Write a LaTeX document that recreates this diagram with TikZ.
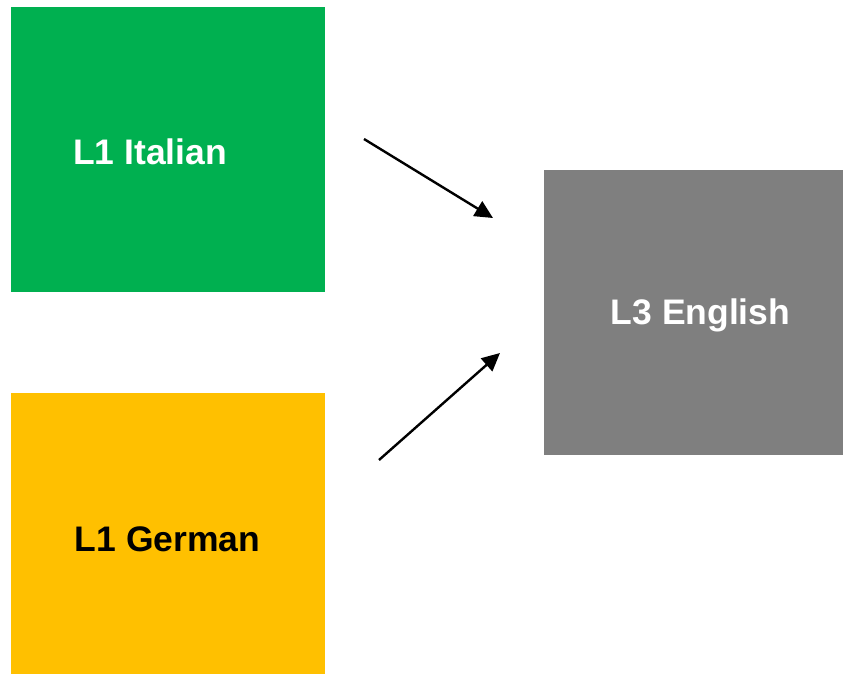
\documentclass[tikz,border=0pt]{standalone}
\usepackage{fontspec}
\setmainfont{Liberation Sans}
\usetikzlibrary{arrows.meta}
\definecolor{boxgreen}{HTML}{00B050}
\definecolor{boxyellow}{HTML}{FFC000}
\definecolor{boxgray}{HTML}{7F7F7F}
\tikzset{
  langbox/.style={draw=none, inner sep=0pt, anchor=north west},
  langtext/.style={font=\fontsize{35.5bp}{40bp}\selectfont\bfseries, inner sep=0pt},
  link/.style={line width=2.4bp, -{Triangle[length=18bp, width=17bp]}}
}
\begin{document}
\begin{tikzpicture}[x=1bp, y=-1bp]
  \useasboundingbox (0,0) rectangle (843,675);
  % language boxes
  \node[langbox, fill=boxgreen, minimum width=314bp, minimum height=285bp] (italian) at (11,7) {};
  \node[langbox, fill=boxyellow, minimum width=314bp, minimum height=281bp] (german) at (11,393) {};
  \node[langbox, fill=boxgray, minimum width=299bp, minimum height=285bp] (english) at (544,170) {};
  % labels
  \node[langtext, text=white] (italianlbl) at (150,152) {L1 Italian};
  \node[langtext, text=black] (germanlbl) at (167.5,539) {L1 German};
  \node[langtext, text=white] (englishlbl) at (700.5,315) {L3 English};
  % transfer arrows
  \coordinate (a1s) at (364,139);
  \coordinate (a1e) at (493,218);
  \coordinate (a2s) at (379,460);
  \coordinate (a2e) at (500,353);
  \draw[link] (a1s) -- (a1e);
  \draw[link] (a2s) -- (a2e);
\end{tikzpicture}
\end{document}
